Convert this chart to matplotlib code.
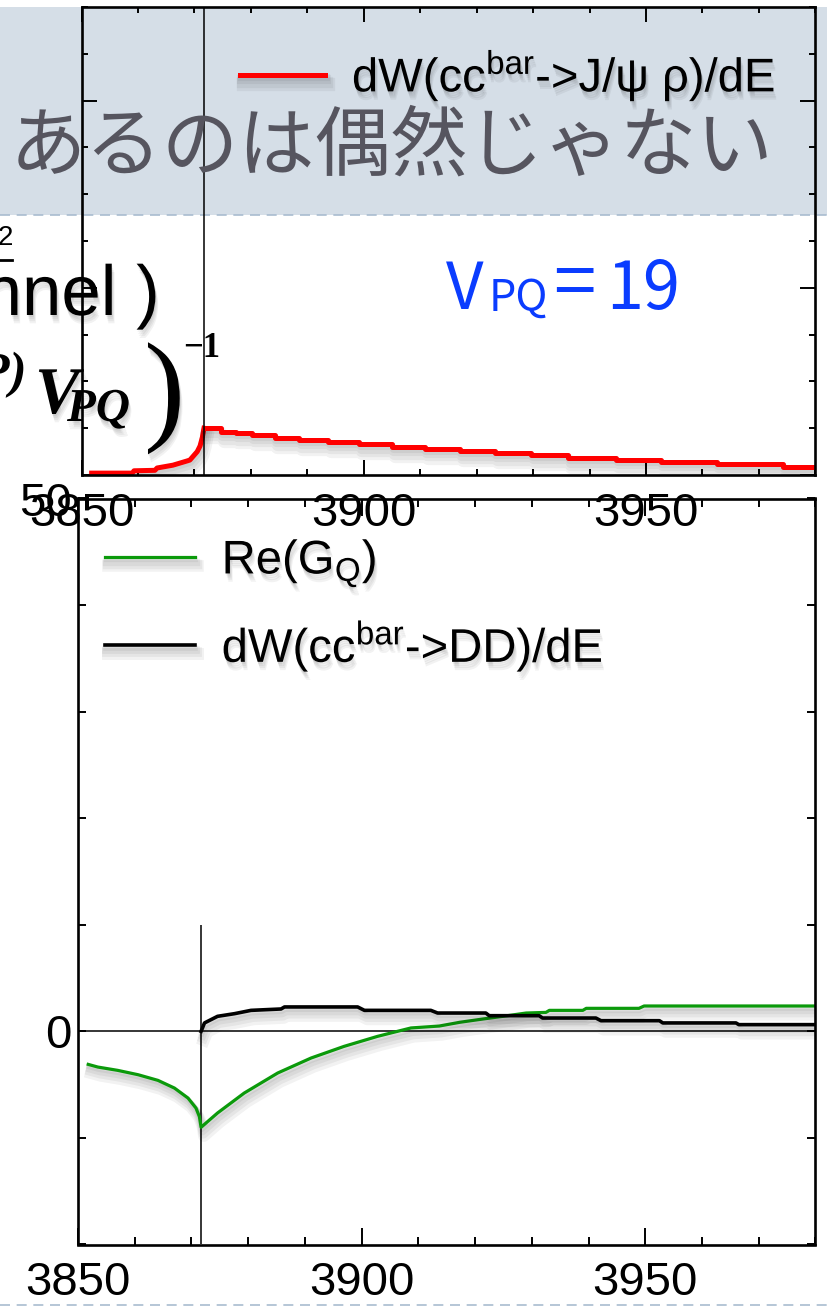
import matplotlib
matplotlib.use('Agg')
import matplotlib.pyplot as plt
import matplotlib.patheffects as pe
from matplotlib.patches import Rectangle
from matplotlib.lines import Line2D
from matplotlib.ticker import MultipleLocator

plt.rcParams['font.family'] = ['Liberation Sans', 'DejaVu Sans']
plt.rcParams['mathtext.fontset'] = 'custom'
plt.rcParams['mathtext.rm'] = 'Liberation Sans'
plt.rcParams['mathtext.it'] = 'Liberation Sans:italic'
plt.rcParams['mathtext.bf'] = 'Liberation Sans:bold'

# --- data ---
threshold = 3871.7

# top panel: dW(cc^bar -> J/psi rho)/dE
red_pre_E = [3851.8, 3859.0, 3859.3, 3863.0, 3863.4, 3866.2, 3868.7, 3869.2, 3870.5, 3871.0, 3871.4, 3871.7]
red_pre_W = [0.04, 0.04, 0.09, 0.10, 0.15, 0.21, 0.30, 0.32, 0.50, 0.62, 0.80, 1.00]
red_step_E = [3871.7, 3874.7, 3877.3, 3880.2, 3884.2, 3888.6, 3893.7, 3899.2, 3905.0, 3910.8,
              3917.0, 3923.2, 3929.7, 3936.2, 3944.7, 3952.6, 3962.5, 3974.2, 3980.0]
red_step_W = [1.00, 0.92, 0.90, 0.86, 0.79, 0.75, 0.71, 0.66, 0.60, 0.56,
              0.51, 0.47, 0.43, 0.36, 0.32, 0.28, 0.24, 0.17, 0.17]

# bottom panel: Re(G_Q) and dW(cc^bar -> DD)/dE
green_E = [3851.8, 3853.5, 3857.0, 3860.6, 3864.1, 3867.0, 3869.4, 3870.8, 3871.4, 3871.7,
           3874.6, 3879.3, 3885.2, 3891.1, 3896.9, 3902.8, 3908.7, 3913.7, 3917.3, 3921.4,
           3924.9, 3929.0, 3932.5, 3933.1, 3939.0, 3939.6, 3948.9, 3949.8, 3980.0]
green_G = [-3.10, -3.35, -3.66, -4.07, -4.60, -5.32, -6.26, -7.20, -8.00, -9.00,
           -7.66, -5.79, -3.91, -2.50, -1.41, -0.47, 0.32, 0.50, 0.85, 1.16,
           1.41, 1.72, 1.78, 1.97, 1.97, 2.16, 2.16, 2.38, 2.38]
black_E = [3871.7, 3872.3, 3874.6, 3877.6, 3880.5, 3885.8, 3886.4, 3899.3, 3900.5, 3912.2,
           3913.4, 3921.9, 3922.5, 3931.3, 3931.9, 3941.3, 3942.2, 3952.5, 3953.1, 3966.0,
           3966.5, 3980.0]
black_W = [0.00, 0.79, 1.41, 1.66, 1.97, 2.10, 2.29, 2.29, 1.97, 1.97,
           1.72, 1.72, 1.47, 1.47, 1.25, 1.25, 1.00, 1.00, 0.79, 0.79,
           0.63, 0.63]

xticks = [3850, 3900, 3950]
yticks_bottom = [-20, -10, 0, 10, 20, 30, 40, 50]
ylabels_bottom = ['', '', '0', '', '', '', '', '50']

title_text = 'あるのは偶然じゃない'
label_red = r'dW(${\rm cc}^{\rm bar}$->J/ψ ρ)/dE'
label_green = r'Re(G$_{\rm Q}$)'
label_black = r'dW(${\rm cc}^{\rm bar}$->DD)/dE'

W, H = 827, 1310
fig = plt.figure(figsize=(W / 100, H / 100), dpi=100)


def box(x0, y0, x1, y1):
    # pixel box (top-left origin) -> figure rect
    return [x0 / W, 1 - y1 / H, (x1 - x0) / W, (y1 - y0) / H]


def fy(y):
    return 1 - y / H


# soft slide-style drop shadows (a few faint offset layers)
def line_shadow(lw):
    fx = [pe.SimpleLineShadow(offset=(0.5 * k, -1.6 * k), shadow_color='black', alpha=0.05,
                              linewidth=lw + 1.5 * k) for k in (1, 2, 3, 4)]
    return fx + [pe.Normal()]


def text_shadow():
    fx = [pe.SimplePatchShadow(offset=(0.5 * k, -1.5 * k), shadow_rgbFace='black', alpha=0.05)
          for k in (1, 2, 3, 4)]
    return fx + [pe.Normal()]


# slide title band
fig.add_artist(Rectangle((0, fy(215)), 1, (215 - 7) / H, transform=fig.transFigure,
                         facecolor='#d5dee7', edgecolor='none', zorder=-5))
for yy in (215, 1305):
    fig.add_artist(Line2D([0, 1], [fy(yy), fy(yy)], transform=fig.transFigure,
                          color='#a9bcd0', lw=1.2, ls=(0, (6, 4)), zorder=-4))

# ---------------- bottom panel ----------------
ax2 = fig.add_axes(box(78, 498.5, 815.4, 1244.5))
ax2.set_zorder(1)
ax2.axhline(0, color='black', lw=1.1)
ax2.vlines(threshold, -20, 10, color='black', lw=1.1)
ax2.plot(green_E, green_G, color='#0b9a0b', lw=2.3, label=label_green, path_effects=line_shadow(2.3))
ax2.plot(black_E, black_W, color='black', lw=2.6, label=label_black, path_effects=line_shadow(2.6))
ax2.set_xlim(3850, 3980)
ax2.set_ylim(-20, 50)
ax2.set_xticks(xticks)
ax2.xaxis.set_minor_locator(MultipleLocator(10))
ax2.set_yticks(yticks_bottom)
ax2.set_yticklabels(ylabels_bottom)
ax2.tick_params(which='both', direction='in', top=True, right=True, width=1.4, labelsize=34)
ax2.tick_params(axis='x', which='major', length=12, pad=12)
ax2.tick_params(axis='x', which='minor', length=5.7)
ax2.tick_params(axis='y', length=6, pad=4.5)
for s in ax2.spines.values():
    s.set_linewidth(1.9)
leg2 = ax2.legend(loc='upper left', bbox_to_anchor=(105 / W, fy(538)), bbox_transform=fig.transFigure,
                  frameon=False, fontsize=34, handlelength=1.9, handletextpad=0.57, labelspacing=0.62,
                  borderpad=0, borderaxespad=0)
for t in leg2.get_texts():
    t.set_path_effects(text_shadow())

# ---------------- top panel ----------------
ax1 = fig.add_axes(box(81.5, 7, 815.4, 475))
ax1.set_zorder(2)
ax1.patch.set_alpha(0)
ax1.plot(red_pre_E, red_pre_W, color='red', lw=3.6, path_effects=line_shadow(3.6))
ax1.plot(red_step_E, red_step_W, color='red', lw=3.6, drawstyle='steps-post', label=label_red,
         path_effects=line_shadow(3.6))
ax1.axvline(threshold, color='black', lw=1.1)
ax1.set_xlim(3850, 3980)
ax1.set_ylim(0, 10)
ax1.set_xticks(xticks)
ax1.xaxis.set_minor_locator(MultipleLocator(10))
ax1.yaxis.set_major_locator(MultipleLocator(4))
ax1.yaxis.set_minor_locator(MultipleLocator(1))
ax1.tick_params(which='both', direction='in', top=True, right=True, width=1.4, labelleft=False)
ax1.tick_params(which='major', length=11)
ax1.tick_params(which='minor', length=4.5)
ax1.tick_params(axis='x', labelsize=34, pad=12)
for s in ax1.spines.values():
    s.set_linewidth(1.9)
leg1 = ax1.legend(loc='upper left', bbox_to_anchor=(240 / W, fy(48)), bbox_transform=fig.transFigure,
                  frameon=False, fontsize=34, handlelength=1.8, handletextpad=0.57,
                  borderpad=0, borderaxespad=0)
for t in leg1.get_texts():
    t.set_path_effects(text_shadow())

# ---------------- slide text overlays ----------------
fig.text(10 / W, fy(170), title_text, family=['Noto Sans CJK JP'], fontsize=55,
         color='#56555f', ha='left', va='baseline', zorder=10)

blue = '#0a3cff'
fig.text(446 / W, fy(309), 'V', family=['Noto Sans CJK JP'], fontsize=47, color=blue,
         ha='left', va='baseline', zorder=10)
fig.text(489 / W, fy(311), 'PQ', family=['Noto Sans CJK JP'], fontsize=31, color=blue,
         ha='left', va='baseline', zorder=10)
fig.text(553 / W, fy(309), '=', family=['Noto Sans CJK JP'], fontsize=55, color=blue,
         ha='left', va='baseline', zorder=10)
fig.text(606 / W, fy(309), '19', family=['Noto Sans CJK JP'], fontsize=48, color=blue,
         ha='left', va='baseline', zorder=10)

fig.text(13 / W, fy(245), '2', fontsize=20, ha='right', va='baseline', zorder=10)
fig.add_artist(Line2D([0, 12 / W], [fy(260), fy(260)], transform=fig.transFigure,
                      color='black', lw=2, zorder=10))
fig.text(160 / W, fy(315), 'channel )', fontsize=51, ha='right', va='baseline', zorder=10,
         path_effects=text_shadow())

fig.text(27 / W, fy(387), '(P)', family='Liberation Serif', style='italic', weight='bold',
         fontsize=37, ha='right', va='baseline', zorder=10)
fig.text(35 / W, fy(413), 'V', family='Liberation Serif', style='italic', weight='bold',
         fontsize=48, ha='left', va='baseline', zorder=10, path_effects=text_shadow())
fig.text(67 / W, fy(421), 'PQ', family='Liberation Serif', style='italic', weight='bold',
         fontsize=34, ha='left', va='baseline', zorder=10, path_effects=text_shadow())
fig.text(144 / W, fy(428), ')', family='Liberation Serif', fontsize=89,
         ha='left', va='baseline', zorder=10, path_effects=text_shadow())
fig.text(183 / W, fy(357), '\u22121', family='Liberation Serif', weight='bold',
         fontsize=25, ha='left', va='baseline', zorder=10)

fig.savefig('out.png', dpi=100)
